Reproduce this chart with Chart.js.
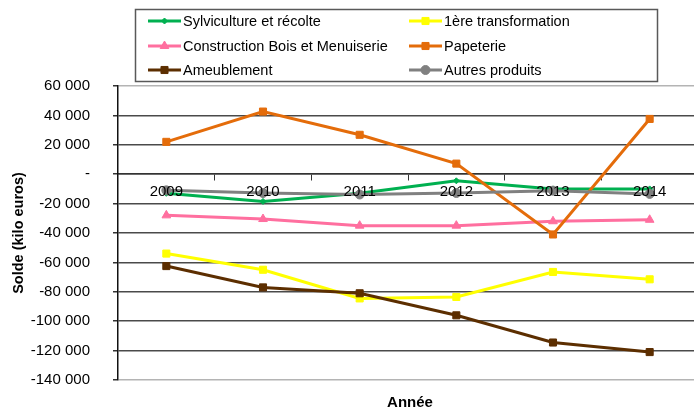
<!DOCTYPE html>
<html>
<head>
<meta charset="utf-8">
<script src="https://cdn.jsdelivr.net/npm/chart.js@4/dist/chart.umd.min.js"></script>
<style>
  html, body { margin: 0; padding: 0; background: #fff; overflow: hidden; }
  #wrap { position: absolute; left: 0; top: 0; width: 704px; height: 412px; }
</style>
</head>
<body>
<div id="wrap"><canvas id="solde" width="704" height="412"></canvas></div>
<script>
const years = ['2009', '2010', '2011', '2012', '2013', '2014'];
const sylviculture = [-13000, -18500, -13000, -4500, -10000, -10000];
const premiereTransfo = [-54000, -65000, -84500, -83500, -66500, -71500];
const construction = [-28000, -30500, -35000, -35000, -32000, -31000];
const papeterie = [22000, 42600, 26800, 7200, -41000, 37600];
const ameublement = [-62500, -77000, -81000, -96000, -114500, -121000];
const autres = [-11000, -12800, -13800, -12800, -11200, -13400];
const yTicks = { min: -140000, max: 60000, step: 20000 };

const font = "'Liberation Sans', Arial, sans-serif";

function serie(label, data, color, style, radius) {
  return {
    label: label,
    data: data,
    borderColor: color,
    backgroundColor: color,
    borderWidth: 3,
    pointStyle: style,
    pointRadius: radius,
    pointHoverRadius: radius,
    pointBorderWidth: 1,
    tension: 0
  };
}

const datasets = [
  serie('Sylviculture et récolte', sylviculture, '#00B050', 'rectRot', 3),
  serie('1ère transformation', premiereTransfo, '#FFFF00', 'rect', 5),
  serie('Construction Bois et Menuiserie', construction, '#FF6F9F', 'triangle', 5),
  serie('Papeterie', papeterie, '#E46C0A', 'rect', 5),
  serie('Ameublement', ameublement, '#5C2E00', 'rect', 5),
  serie('Autres produits', autres, '#808080', 'circle', 4.5)
];
// Excel draws the last series on top
datasets.forEach((d, i) => { d.order = datasets.length - i; });

const legendBox = {
  id: 'legendBox',
  afterDraw(chart) {
    const ctx = chart.ctx;
    ctx.save();
    ctx.strokeStyle = '#595959';
    ctx.lineWidth = 1.5;
    ctx.strokeRect(135.5, 9.5, 522, 72);
    const rows = [21, 46, 70];
    chart.data.datasets.forEach((d, i) => {
      const x0 = i % 2 === 0 ? 148 : 409;
      const y = rows[Math.floor(i / 2)];
      ctx.strokeStyle = d.borderColor;
      ctx.fillStyle = d.backgroundColor;
      ctx.lineWidth = 3;
      ctx.beginPath();
      ctx.moveTo(x0, y);
      ctx.lineTo(x0 + 33, y);
      ctx.stroke();
      ctx.lineWidth = 1;
      Chart.helpers.drawPoint(ctx, { pointStyle: d.pointStyle, rotation: 0, radius: d.pointRadius, borderWidth: 1 }, x0 + 16.5, y);
      ctx.fillStyle = '#000';
      ctx.font = '14.5px ' + font;
      ctx.textBaseline = 'middle';
      ctx.textAlign = 'left';
      ctx.fillText(d.label, x0 + 35, y + 1);
    });
    ctx.font = 'bold 15px ' + font;
    ctx.textAlign = 'center';
    ctx.fillText('Année', 410, 403);
    ctx.restore();
  }
};

new Chart(document.getElementById('solde'), {
  type: 'line',
  data: { labels: years, datasets: datasets },
  options: {
    responsive: false,
    animation: false,
    layout: { padding: { left: 6, right: 2, top: 86, bottom: 29 } },
    plugins: { legend: { display: false }, tooltip: { enabled: false } },
    scales: {
      x: {
        position: { y: 0 },
        offset: true,
        grid: { display: true, offset: true, drawOnChartArea: false, drawTicks: true, tickLength: 6, color: '#333', tickColor: '#333' },
        border: { display: true, color: '#333', width: 1.5 },
        ticks: { z: 1, color: '#000', font: { family: font, size: 15 }, padding: 3, maxRotation: 0 }
      },
      y: {
        min: yTicks.min,
        max: yTicks.max,
        afterFit: (s) => { s.width = 112; },
        grid: {
          color: (c) => (c.tick && (c.tick.value === yTicks.max || c.tick.value === yTicks.min)) ? '#b4b4b4' : '#4a4a4a',
          lineWidth: 1.5,
          tickLength: 5,
          tickColor: '#333'
        },
        border: { display: true, color: '#111', width: 1.5 },
        ticks: {
          stepSize: yTicks.step,
          color: '#000',
          padding: 23,
          font: { family: font, size: 15 },
          callback: (v) => v === 0 ? '-' : String(v).replace(/\B(?=(\d{3})+(?!\d))/g, ' ')
        },
        title: {
          display: true,
          text: 'Solde (kilo euros)',
          color: '#000',
          font: { family: font, size: 14.5, weight: 'bold' },
          padding: { top: 4, bottom: 2 }
        }
      }
    }
  },
  plugins: [legendBox]
});
</script>
</body>
</html>
